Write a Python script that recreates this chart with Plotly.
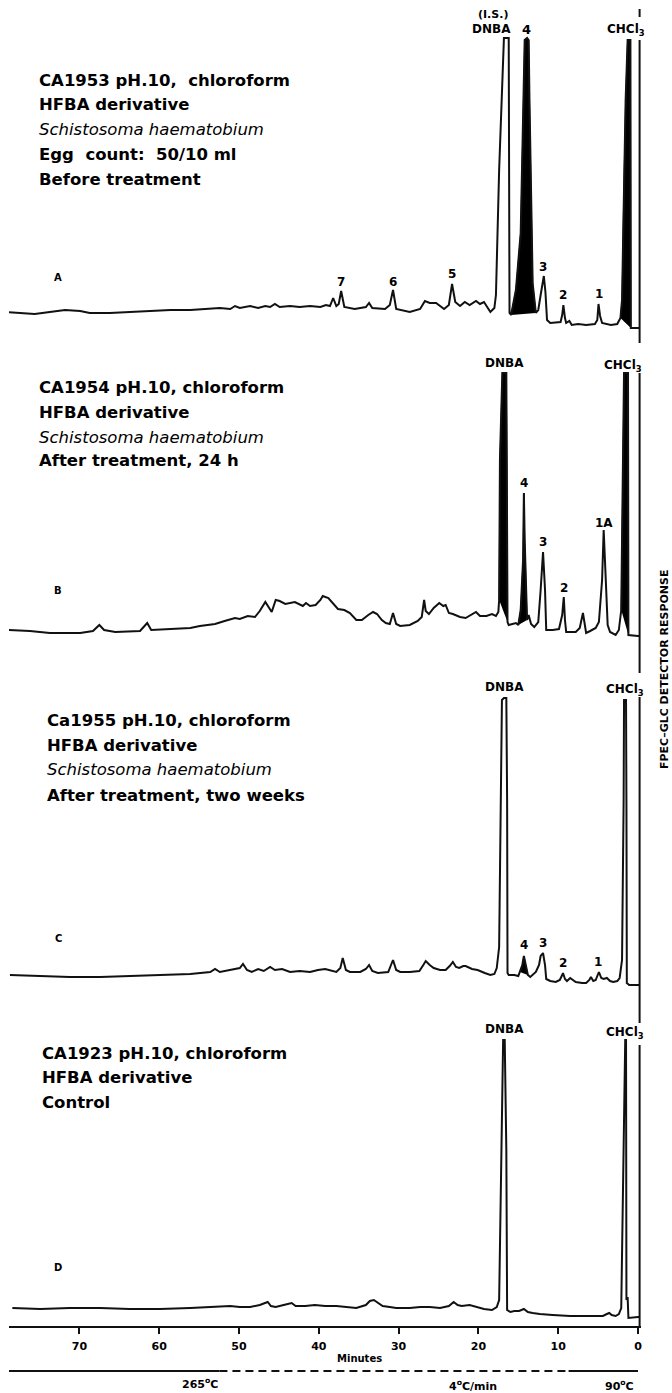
import plotly.graph_objects as go

W, H = 672, 1393
FONT = "DejaVu Sans"

# ---------------------------------------------------------------------------
# Chromatograms: retention time (min) and detector response (arbitrary units)
# ---------------------------------------------------------------------------
a_time = [79.3, 77.4, 75.6, 73.7, 71.8, 69.9, 68.7, 66.2, 63.7, 61.2, 58.6, 56.1,
          53.6, 52.4, 51.1, 50.5, 49.9, 48.6, 47.6, 46.7, 46.1, 45.5, 44.9, 43.6,
          42.4, 41.1, 39.8, 39.1, 38.6, 38.2, 37.8, 37.5, 37.2, 36.8, 35.5, 34.1,
          33.7, 33.3, 31.7, 31.1, 30.7, 30.3, 28.6, 27.3, 26.7, 26.1, 25.3, 24.3,
          23.7, 23.3, 22.9, 22.3, 21.7, 21.1, 20.3, 19.8, 19.3, 18.5, 18.0, 17.8,
          17.4, 16.8, 16.2, 16.15, 16.1, 15.9, 15.3, 14.7, 14.4, 14.2, 13.9, 13.7,
          13.6, 13.4, 13.2, 12.8, 12.5, 12.2, 11.95, 11.8, 11.6, 11.4, 11.0, 10.2,
          9.7, 9.5, 9.35, 9.15, 9.0, 8.6, 8.3, 7.5, 6.5, 5.4, 5.1, 4.95, 4.75, 4.5,
          3.4, 2.6, 2.2, 2.0, 1.8, 1.55, 1.3, 0.95, 0.9, -0.2]
a_resp = [18, 17, 16, 18, 20, 19, 17, 17, 18, 19, 20, 20,
          21, 22, 21, 24, 22, 24, 22, 24, 23, 26, 23, 24,
          23, 24, 23, 25, 24, 32, 24, 26, 39, 23, 21, 23,
          27, 22, 21, 25, 40, 21, 18, 21, 29, 27, 27, 21,
          25, 46, 28, 24, 28, 25, 29, 26, 28, 18, 22, 35,
          160, 292, 292, 150, 17, 15, 40, 97, 197, 290, 292, 290,
          230, 130, 47, 17, 20, 35, 50, 54, 38, 10, 7, 8,
          8, 15, 25, 12, 7, 9, 5, 6, 5, 6, 10, 26, 14, 7,
          5, 6, 12, 30, 130, 230, 290, 290, 2, 2]

b_time = [79.1, 76.2, 73.7, 69.9, 68.3, 67.5, 66.9, 65.5, 62.4, 61.5, 61.0, 58.6,
          56.1, 54.9, 53.0, 51.8, 50.5, 49.9, 48.9, 48.0, 47.4, 46.7, 46.2, 45.9,
          45.4, 44.9, 44.2, 43.0, 42.0, 41.6, 41.1, 40.4, 39.8, 39.5, 38.8, 38.2,
          37.6, 36.8, 36.1, 35.3, 34.6, 33.8, 33.2, 32.7, 32.1, 31.6, 31.1, 30.7,
          30.3, 29.8, 28.6, 27.6, 27.1, 26.8, 26.6, 26.2, 25.6, 24.9, 24.4, 24.1,
          23.7, 23.2, 22.3, 21.6, 20.8, 20.3, 19.8, 19.0, 18.3, 17.8, 17.5, 17.4,
          17.3, 17.0, 16.5, 16.4, 16.35, 16.2, 15.7, 15.3, 15.0, 14.7, 14.4, 14.3,
          14.2, 14.0, 13.9, 13.7, 13.4, 13.0, 12.5, 12.2, 11.9, 11.65, 11.5, 10.7,
          9.9, 9.5, 9.3, 9.15, 9.0, 7.8, 7.3, 6.9, 6.6, 6.5, 6.0, 5.3,
          4.9, 4.5, 4.3, 4.0, 3.8, 3.5, 2.8, 2.4, 2.1, 2.0, 1.9, 1.75,
          1.25, 1.2, 0.0, -0.2]
b_resp = [30, 29, 27, 27, 29, 35, 30, 28, 29, 37, 30, 31,
          32, 34, 36, 39, 42, 41, 44, 43, 49, 58, 51, 48,
          60, 59, 56, 58, 54, 57, 54, 55, 60, 64, 62, 56,
          51, 50, 47, 40, 40, 45, 48, 46, 40, 37, 36, 47,
          36, 34, 35, 39, 43, 60, 49, 46, 52, 57, 54, 55,
          47, 46, 43, 42, 46, 48, 44, 44, 46, 44, 48, 60,
          200, 287, 287, 160, 38, 35, 36, 37, 35, 50, 100, 167,
          120, 60, 40, 45, 36, 33, 38, 70, 108, 70, 30, 30,
          31, 45, 63, 40, 28, 28, 32, 47, 32, 27, 29, 32,
          38, 80, 130, 80, 35, 28, 25, 30, 50, 120, 210, 287,
          287, 25, 24, 24]

c_time = [78.7, 74.9, 71.2, 67.4, 63.7, 58.6, 56.1, 53.6, 53.0, 52.4, 51.1, 49.9,
          49.5, 49.0, 48.4, 47.6, 46.9, 46.1, 45.5, 44.6, 43.6, 42.4, 41.1, 40.1,
          39.2, 37.8, 37.3, 37.0, 36.6, 36.1, 34.8, 34.1, 33.7, 33.3, 32.6, 31.3,
          31.0, 30.7, 30.3, 29.8, 28.6, 27.4, 26.9, 26.6, 26.1, 25.6, 24.8, 24.1,
          23.6, 23.2, 22.8, 22.4, 21.9, 21.6, 20.8, 20.1, 19.2, 18.5, 18.0, 17.7,
          17.4, 17.2, 17.05, 16.8, 16.5, 16.4, 16.35, 16.2, 15.5, 15.0, 14.8, 14.5,
          14.3, 14.0, 13.8, 13.5, 13.2, 12.8, 12.4, 12.2, 11.9, 11.65, 11.5, 11.0,
          10.3, 9.8, 9.5, 9.4, 9.15, 8.9, 8.5, 8.1, 7.8, 7.0, 6.5, 6.1,
          5.9, 5.6, 5.3, 4.9, 4.6, 4.3, 3.9, 3.5, 3.1, 2.6, 2.3, 2.0,
          1.9, 1.8, 1.75, 1.5, 1.45, 1.4, 1.1, 0.0, -0.2]
c_resp = [15, 14, 13, 13, 14, 16, 16, 18, 21, 18, 20, 22,
          26, 20, 18, 21, 19, 23, 20, 21, 18, 19, 18, 20,
          21, 18, 22, 32, 20, 18, 18, 21, 25, 19, 17, 18,
          24, 30, 20, 18, 18, 19, 25, 29, 25, 22, 20, 20,
          24, 28, 23, 22, 24, 24, 21, 20, 17, 15, 16, 22,
          43, 190, 290, 292, 292, 190, 17, 15, 15, 14, 18, 25,
          34, 24, 15, 13, 15, 18, 25, 34, 37, 25, 11, 9,
          8, 10, 15, 17, 11, 9, 12, 10, 8, 7, 7, 10,
          13, 9, 10, 18, 12, 11, 12, 9, 8, 9, 12, 30,
          90, 190, 290, 290, 190, 7, 5, 5, 5]

d_time = [78.4, 74.9, 71.2, 67.4, 63.7, 59.9, 56.1, 53.6, 51.1, 49.9, 48.6, 47.4,
          46.6, 46.4, 46.0, 45.4, 44.4, 43.4, 42.9, 41.7, 40.5, 39.2, 37.8, 36.6,
          35.3, 34.1, 33.6, 33.1, 32.6, 32.0, 31.1, 30.3, 28.6, 27.3, 26.1, 24.8,
          23.7, 23.1, 22.6, 22.1, 21.1, 20.1, 19.3, 18.3, 17.7, 17.4, 17.2, 17.05,
          16.9, 16.7, 16.5, 16.4, 16.0, 15.5, 14.9, 14.3, 13.8, 13.2, 12.3, 10.7,
          8.5, 6.5, 4.4, 3.9, 3.6, 3.3, 2.8, 2.4, 2.1, 1.9, 1.75, 1.6,
          1.5, 1.45, 1.3, 1.2, 0.0, -0.2]
d_resp = [18, 17, 18, 18, 17, 17, 18, 19, 20, 19, 19, 21,
          23, 24, 20, 19, 21, 23, 20, 20, 21, 20, 20, 19,
          18, 21, 25, 26, 23, 20, 19, 18, 18, 19, 19, 18,
          20, 24, 21, 20, 21, 19, 17, 16, 19, 26, 126, 226,
          286, 286, 176, 16, 14, 15, 15, 17, 14, 13, 12, 11,
          10, 10, 10, 12, 13, 11, 10, 12, 18, 126, 226, 286,
          286, 26, 29, 8, 9, 9]

# Oven programme: 90 °C hold, 4 °C/min ramp, 265 °C hold
hold_end = 8.7          # min
start_temp, end_temp, ramp_rate = 90, 265, 4
ramp_end = hold_end + (end_temp - start_temp) / ramp_rate

tick_values = [0, 10, 20, 30, 40, 50, 60, 70]

# ---------------------------------------------------------------------------
# Panel set-up (pixel rows of each strip, shaded peak windows)
# ---------------------------------------------------------------------------
panels = [
    dict(time=a_time, resp=a_resp, rows=(0, 330), shaded=[(12.8, 15.9), (0.9, 2.2)],
         marker_gaps=[(321, 313), (290, 0)]),
    dict(time=b_time, resp=b_resp, rows=(330, 660),
         shaded=[(16.35, 17.4), (13.9, 15.0), (1.2, 2.1)],
         marker_gaps=[(330, 317), (287, 0)]),
    dict(time=c_time, resp=c_resp, rows=(660, 990), shaded=[(13.8, 14.8)],
         marker_gaps=[(330, 317), (293, 0)]),
    dict(time=d_time, resp=d_resp, rows=(990, 1326), shaded=[],
         marker_gaps=[(336, 303), (281, 0)]),
]

X_RANGE = [78.82, -0.376]
X_DOMAIN = [9 / W, 641 / W]

fig = go.Figure()
layout = dict(
    width=W, height=H, margin=dict(l=0, r=0, t=0, b=0),
    paper_bgcolor="white", plot_bgcolor="white", showlegend=False,
)

for i, p in enumerate(panels, start=1):
    xa = "x" if i == 1 else f"x{i}"
    ya = "y" if i == 1 else f"y{i}"
    top, bottom = p["rows"]
    layout["xaxis" if i == 1 else f"xaxis{i}"] = dict(
        domain=X_DOMAIN, range=X_RANGE, anchor=ya, visible=False, fixedrange=True,
        **({} if i == 1 else dict(matches="x")),
    )
    layout["yaxis" if i == 1 else f"yaxis{i}"] = dict(
        domain=[1 - bottom / H, 1 - top / H], range=[0, bottom - top], anchor=xa,
        visible=False, fixedrange=True,
    )
    # shaded (black) peaks
    for t0, t1 in p["shaded"]:
        sx = [t for t in p["time"] if t0 <= t <= t1]
        sy = [r for t, r in zip(p["time"], p["resp"]) if t0 <= t <= t1]
        fig.add_trace(go.Scatter(x=sx, y=sy, xaxis=xa, yaxis=ya, mode="lines",
                                 fill="toself", fillcolor="black",
                                 line=dict(color="black", width=1),
                                 hoverinfo="skip"))
    # detector trace
    fig.add_trace(go.Scatter(x=p["time"], y=p["resp"], xaxis=xa, yaxis=ya,
                             mode="lines", line=dict(color="#111111", width=2),
                             hoverinfo="skip"))
    # zero-time marker pen line
    for y0, y1 in p["marker_gaps"]:
        fig.add_trace(go.Scatter(x=[-0.2, -0.2], y=[y0, y1], xaxis=xa, yaxis=ya,
                                 mode="lines", line=dict(color="#111111", width=2),
                                 hoverinfo="skip"))

# bottom time axis
layout["xaxis4"].update(
    visible=True, showline=True, linecolor="#111111", linewidth=2,
    ticks="outside", ticklen=6, tickwidth=2, tickcolor="#111111",
    tickvals=tick_values, ticktext=[str(v) for v in tick_values],
    tickfont=dict(family=FONT, size=11, color="black", weight="bold"),
    ticklabelstandoff=3, showgrid=False, zeroline=False, automargin=False,
)

# temperature programme strip
layout["xaxis5"] = dict(domain=X_DOMAIN, range=X_RANGE, anchor="y5", matches="x",
                        visible=False)
layout["yaxis5"] = dict(domain=[1 - 1376 / H, 1 - 1366 / H], range=[-1, 1],
                        anchor="x5", visible=False)
for seg, dash in [((X_RANGE[0], ramp_end), "solid"),
                  ((ramp_end, hold_end), "8px,5px"),
                  ((hold_end, 0), "solid")]:
    fig.add_trace(go.Scatter(x=list(seg), y=[0, 0], xaxis="x5", yaxis="y5",
                             mode="lines",
                             line=dict(color="#111111", width=2, dash=dash),
                             hoverinfo="skip"))

# ---------------------------------------------------------------------------
# Text
# ---------------------------------------------------------------------------
annotations = []


def note(text, x, y, size, weight="bold", style="normal", xanchor="center",
         angle=0):
    annotations.append(dict(
        text=text, x=x / W, y=1 - y / H, xref="paper", yref="paper",
        showarrow=False, xanchor=xanchor, yanchor="middle", textangle=angle,
        font=dict(family=FONT, size=size, color="black", weight=weight, style=style),
    ))


headers = [
    (37, [80, 105, 130, 154, 179],
     ["CA1953 pH.10,\u00a0 chloroform", "HFBA derivative",
      "Schistosoma haematobium", "Egg\u00a0 count:\u00a0 50/10 ml", "Before treatment"]),
    (37, [387, 412, 437, 461],
     ["CA1954 pH.10, chloroform", "HFBA derivative", "Schistosoma haematobium",
      "After treatment, 24 h"]),
    (45, [720, 745, 770, 795],
     ["Ca1955 pH.10, chloroform", "HFBA derivative", "Schistosoma haematobium",
      "After treatment, two weeks"]),
    (40, [1053, 1077, 1102],
     ["CA1923 pH.10, chloroform", "HFBA derivative", "Control"]),
]
for x0, ys, lines in headers:
    for y, line in zip(ys, lines):
        italic = line.startswith("Schistosoma")
        note(line, x0, y, 16.5, weight="normal" if italic else "bold",
             style="italic" if italic else "normal", xanchor="left")

for letter, y in zip("ABCD", [277, 590, 938, 1267]):
    note(letter, 58, y, 10)

CHCL3 = "CHCl<sub>3</sub>"
peak_labels = [
    ("(I.S.)", 493, 15, 11), ("DNBA", 492, 29, 12), ("4", 526, 29, 13),
    (CHCL3, 626, 30, 12), ("7", 341, 282, 12), ("6", 393, 282, 12),
    ("5", 452, 274, 12), ("3", 543, 267, 12), ("2", 563, 295, 12), ("1", 599, 294, 12),
    ("DNBA", 504, 363, 12), (CHCL3, 623, 366, 12), ("4", 524, 483, 12),
    ("3", 543, 542, 12), ("2", 564, 588, 12), ("1A", 604, 523, 12),
    ("DNBA", 504, 687, 12), (CHCL3, 625, 690, 12), ("4", 524, 945, 12),
    ("3", 543, 943, 12), ("2", 563, 963, 12), ("1", 598, 962, 12),
    ("DNBA", 504, 1029, 12), (CHCL3, 625, 1033, 12),
]
for text, x, y, size in peak_labels:
    note(text, x, y, size)

note("Minutes", 359, 1358, 10)
note("265<sup>o</sup>C", 200, 1383, 11)
note("4<sup>o</sup>C/min", 473, 1385, 11)
note("90<sup>o</sup>C", 619, 1385, 11)
note("FPEC\u2013GLC DETECTOR RESPONSE", 664, 670, 11, angle=-90)

layout["annotations"] = annotations
fig.update_layout(**layout)
fig.write_html("out.html")
